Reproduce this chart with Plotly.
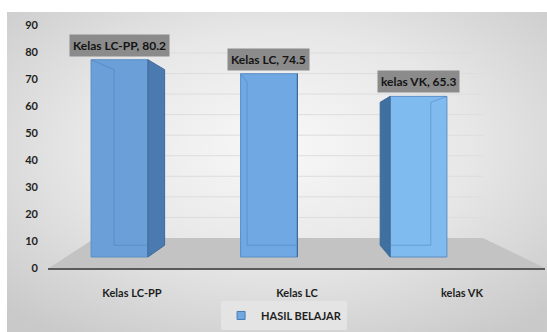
import base64
import plotly.graph_objects as go

# Data
categories = ["Kelas LC-PP", "Kelas LC", "kelas VK"]
values = [80.2, 74.5, 65.3]
series_name = "HASIL BELAJAR"
y_ticks = [0, 10, 20, 30, 40, 50, 60, 70, 80, 90]

# Styling
front_colors = ["#6a9fd8", "#6fa8e2", "#80bbf0"]
side_colors = ["#4a7ab0", "#4d80b6", "#40709f"]
font_family = "Lato, 'Open Sans', sans-serif"
text_color = "#1e1e1e"

# Pseudo-3D geometry (in bar-axis units): back faces shrink toward a vanishing point
bar_width = 0.38
vp_x, vp_y = 1.207, 43.5
depth_k = 0.89

fig = go.Figure()

# Empty trace so the value axis subplot always carries its ticks
fig.add_trace(go.Scatter(x=[None], y=[None], xaxis="x", yaxis="y",
                         showlegend=False, hoverinfo="skip"))

# Bars (front faces) on the bar axes
fig.add_trace(go.Bar(
    x=list(range(len(categories))), y=values, name=series_name,
    width=bar_width, xaxis="x2", yaxis="y2",
    marker=dict(color=front_colors, line=dict(color="#5a8ec6", width=1)),
    showlegend=False, hoverinfo="skip",
))

# Side faces and hidden back edges derived from each bar's value
for i, v in enumerate(values):
    h = bar_width / 2
    xe = i + h if i < vp_x else i - h
    xb = vp_x + (xe - vp_x) * depth_k
    yb = vp_y + (0 - vp_y) * depth_k
    yt = vp_y + (v - vp_y) * depth_k
    fig.add_trace(go.Scatter(
        x=[xe, xe, xb, xb, xe], y=[0, v, yt, yb, 0],
        fill="toself", fillcolor=side_colors[i], mode="lines",
        line=dict(color="#3d6a9a", width=1), xaxis="x2", yaxis="y2",
        showlegend=False, hoverinfo="skip",
    ))
    # faint back edges seen through the translucent front face
    xo = i - h if i < vp_x else i + h
    xob = vp_x + (xo - vp_x) * depth_k
    fig.add_trace(go.Scatter(
        x=[xo, xob, xob, xb], y=[v, yt, yb, yb], mode="lines",
        line=dict(color="rgba(70,120,180,0.45)", width=1),
        xaxis="x2", yaxis="y2", showlegend=False, hoverinfo="skip",
    ))

# Legend entry with a small square key
fig.add_trace(go.Scatter(
    x=[None], y=[None], mode="markers", name=series_name,
    marker=dict(symbol="square", size=8, color=front_colors[1],
                line=dict(color="#4a7ab0", width=1)),
    xaxis="x2", yaxis="y2", showlegend=True, hoverinfo="skip",
))

# Value labels in grey boxes above each bar
annotations = []
for i, (c, v) in enumerate(zip(categories, values)):
    annotations.append(dict(
        x=i, y=v, xref="x2", yref="y2", text=f"{c}, {v}", showarrow=False,
        yanchor="bottom", yshift=3, bgcolor="#8b8b8b", borderpad=3,
        font=dict(family=font_family, size=12, color="#141414", weight="bold"),
    ))

# Back-wall gridlines and floor
shapes = []
for t in y_ticks[1:]:
    shapes.append(dict(
        type="line", xref="paper", yref="y3", x0=0.0946, x1=0.875, y0=t, y1=t,
        line=dict(color="#dddddd", width=1), layer="below",
    ))
shapes.append(dict(
    type="path", xref="paper", yref="paper",
    path="M 0.002 0 L 1 0 L 0.875 0.1235 L 0.0946 0.1235 Z",
    fillcolor="#c3c3c3", line=dict(width=0), layer="below",
))

# Soft radial grey backdrop for the chart panel
svg = (
    '<svg xmlns="http://www.w3.org/2000/svg" width="540" height="320">'
    '<defs><radialGradient id="g" cx="0.5" cy="0.42" r="0.72">'
    '<stop offset="0" stop-color="#f8f8f8"/>'
    '<stop offset="0.5" stop-color="#e7e7e7"/>'
    '<stop offset="1" stop-color="#c9c9c9"/>'
    '</radialGradient></defs>'
    '<rect width="540" height="320" fill="url(#g)"/></svg>'
)
bg_src = "data:image/svg+xml;base64," + base64.b64encode(svg.encode()).decode()

tick_font = dict(family=font_family, size=11, color=text_color, weight="bold")

fig.update_layout(
    width=547, height=332,
    margin=dict(l=48, r=2, t=25, b=64),
    paper_bgcolor="white", plot_bgcolor="rgba(0,0,0,0)",
    images=[dict(
        source=bg_src, xref="paper", yref="paper",
        x=-0.0825, y=1.0535, sizex=1.0865, sizey=1.3169,
        xanchor="left", yanchor="top", sizing="stretch", layer="below",
    )],
    xaxis=dict(
        range=[-0.509, 2.503], tickvals=list(range(len(categories))),
        ticktext=categories, tickfont=tick_font, ticks="", anchor="y",
        ticklabelstandoff=14, showgrid=False, zeroline=False,
        showline=True, linecolor="#5a5a5a", linewidth=1.5,
    ),
    xaxis2=dict(range=[-0.478, 2.846], overlaying="x", anchor="y2",
                visible=False),
    yaxis=dict(
        range=[0, 90], tickvals=y_ticks, tickfont=tick_font, ticks="",
        anchor="x", ticklabelstandoff=9, showgrid=False, zeroline=False,
        showline=False, showticklabels=True,
    ),
    yaxis2=dict(range=[-4.47, 94.31], overlaying="y", anchor="x2",
                visible=False),
    yaxis3=dict(range=[-14.6, 103.6], overlaying="y", anchor="x",
                visible=False),
    shapes=shapes,
    annotations=annotations,
    legend=dict(
        orientation="h", x=0.475, xanchor="center", y=-0.255, yanchor="bottom",
        bgcolor="#e4e4e4", font=dict(family=font_family, size=11,
                                     color=text_color, weight="bold"),
        itemwidth=30, tracegroupgap=0,
    ),
)

fig.write_html("out.html")
